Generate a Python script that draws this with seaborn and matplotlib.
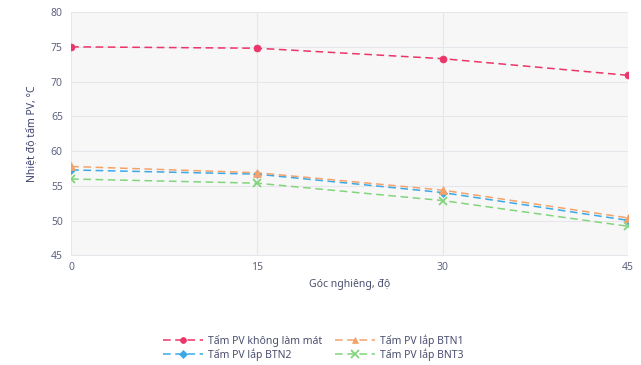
import matplotlib
matplotlib.use("Agg")
import matplotlib.pyplot as plt
import seaborn as sns
import pandas as pd

# Tilt angle (degrees) and panel temperature (°C) for each panel set-up
angles = [0, 15, 30, 45]
no_cooling = [75.0, 74.8, 73.3, 70.9]
btn1 = [57.8, 56.9, 54.4, 50.4]
btn2 = [57.3, 56.7, 54.05, 50.05]
bnt3 = [56.0, 55.4, 52.9, 49.2]

series_names = ["Tấm PV không làm mát", "Tấm PV lắp BTN1", "Tấm PV lắp BTN2", "Tấm PV lắp BNT3"]
series_values = [no_cooling, btn1, btn2, bnt3]
colors = ["#ec3568", "#f4a26a", "#3aa9e6", "#82d57c"]
markers = ["o", "^", "D", "x"]
marker_sizes = [5, 5.5, 4.5, 6]
z_orders = [4, 5, 3, 2]

y_ticks = [45, 50, 55, 60, 65, 70, 75, 80]
x_label = "Góc nghiêng, độ"
y_label = "Nhiệt độ tấm PV, °C"

sns.set_theme(style="white")
plt.rcParams["font.family"] = ["Noto Sans", "DejaVu Sans"]

fig = plt.figure(figsize=(6.41, 3.65), dpi=100)
ax = fig.add_axes([0.111, 0.30, 0.869, 0.667])
ax.set_facecolor("#f7f7f8")

for name, vals, col, mk, ms, zo in zip(series_names, series_values, colors,
                                       markers, marker_sizes, z_orders):
    df = pd.DataFrame({"angle": angles, "temp": vals})
    sns.lineplot(data=df, x="angle", y="temp", ax=ax, color=col, marker=mk,
                 markersize=ms, markeredgecolor=col, markerfacecolor=col,
                 markeredgewidth=1.3 if mk == "x" else 0.5,
                 linestyle=(0, (5, 3)), linewidth=1.1, label=name, zorder=zo)

ax.set_xlim(0, 45)
ax.set_ylim(45, 80)
ax.set_xticks(angles)
ax.set_yticks(y_ticks)
ax.grid(True, color="#e6e6ec", linewidth=0.8)
for s in ax.spines.values():
    s.set_visible(False)

ax.tick_params(axis="both", labelsize=7.5, colors="#5f6480", length=0, pad=6)
ax.tick_params(axis="x", pad=5)
ax.set_xlabel(x_label, fontsize=7.5, color="#4a4f6e", labelpad=4)
ax.set_ylabel(y_label, fontsize=7.5, color="#3b4270", labelpad=10)

# two-row legend: row 1 = no cooling, BTN1; row 2 = BTN2, BNT3
handles, labels = ax.get_legend_handles_labels()
order = [0, 2, 1, 3]
leg = ax.legend([handles[i] for i in order], [labels[i] for i in order],
                loc="upper center", bbox_to_anchor=(0.435, -0.285), ncol=2, frameon=False,
                fontsize=7.5, handlelength=3.8, columnspacing=1.2, labelspacing=0.15,
                handletextpad=0.5, markerscale=0.85)
for t in leg.get_texts():
    t.set_color("#4a4f6e")

fig.savefig("out.png", dpi=100, facecolor="white")
